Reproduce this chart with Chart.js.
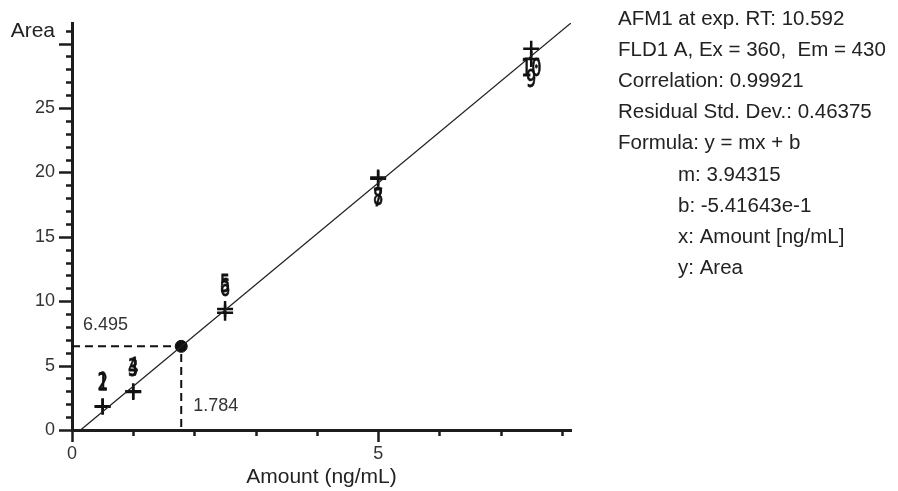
<!DOCTYPE html>
<html>
<head>
<meta charset="utf-8">
<script src="https://cdn.jsdelivr.net/npm/chart.js"></script>
<style>
  html, body { margin: 0; padding: 0; background: #fff; }
  #c { display: block; }
</style>
</head>
<body>
<canvas id="c" width="898" height="491"></canvas>
<script>
// calibration standards (levels 1..10)
const calX = [0.5, 0.5, 1, 1, 2.5, 2.5, 5, 5, 7.5, 7.5];
const calY = [1.85, 1.8, 3.0, 2.95, 9.4, 9.1, 19.5, 19.6, 28.8, 29.6];
const calLabels = ["1", "2", "4", "3", "5", "6", "7", "8", "9", "10"];

// sample found on the curve
const unkX = [1.784];
const unkY = [6.495];

// fitted line, end points
const fitX = [0.14, 8.15];
const fitY = [0, 31.6];

// dashed read-off lines
const dashX = [0, 1.784, 1.784];
const dashY = [6.495, 6.495, 0];

const infoLines = [
  ["AFM1 at exp. RT: 10.592", 0],
  ["FLD1 A, Ex = 360,  Em = 430", 0],
  ["Correlation: 0.99921", 0],
  ["Residual Std. Dev.: 0.46375", 0],
  ["Formula: y = mx + b", 0],
  ["m: 3.94315", 1],
  ["b: -5.41643e-1", 1],
  ["x: Amount [ng/mL]", 1],
  ["y: Area", 1]
];

const toPts = (xs, ys) => xs.map((x, i) => ({ x, y: ys[i] }));
const INK = "#1c1c1c";
const SANS = "'Liberation Sans', Arial, sans-serif";

// minor/major tick marks drawn from the scales' own ticks
const tickMarks = {
  id: "tickMarks",
  afterDraw(chart) {
    const { ctx, scales: { x, y } } = chart;
    ctx.save();
    ctx.strokeStyle = INK;
    ctx.lineWidth = 2.5;
    ctx.beginPath();
    y.ticks.forEach(t => {
      const len = t.value % 5 === 0 ? 13 : 6;
      const py = Math.round(y.getPixelForValue(t.value)) + 0.5;
      ctx.moveTo(y.right - len, py);
      ctx.lineTo(y.right, py);
    });
    x.ticks.forEach(t => {
      const len = t.value % 5 === 0 ? 12 : 6;
      const px = Math.round(x.getPixelForValue(t.value)) + 0.5;
      ctx.moveTo(px, x.top);
      ctx.lineTo(px, x.top + len);
    });
    ctx.stroke();
    ctx.restore();
  }
};

// level numbers next to the calibration points, value tags, info block
const textLayer = {
  id: "textLayer",
  afterDatasetsDraw(chart) {
    const { ctx } = chart;
    ctx.save();
    const meta = chart.getDatasetMeta(2);
    ctx.fillStyle = "#111";
    ctx.strokeStyle = "#111";
    ctx.lineWidth = 0.8;
    ctx.font = "25px 'DejaVu Sans Mono', monospace";
    ctx.textAlign = "center";
    ctx.textBaseline = "middle";
    meta.data.forEach((pt, i) => {
      const dy = i < 6 ? -23 : 21;
      ctx.save();
      ctx.translate(pt.x, pt.y + dy);
      ctx.scale(0.68, 1);
      ctx.fillText(calLabels[i], 0, 0);
      ctx.strokeText(calLabels[i], 0, 0);
      ctx.restore();
    });

    const u = chart.getDatasetMeta(3).data[0];
    ctx.fillStyle = "#333";
    ctx.font = "18px " + SANS;
    ctx.textAlign = "left";
    ctx.fillText(unkY[0].toFixed(3), chart.chartArea.left + 11, u.y - 21);
    ctx.fillText(unkX[0].toFixed(3), u.x + 12, u.y + 60);

    ctx.fillStyle = "#222";
    ctx.font = "20.5px " + SANS;
    infoLines.forEach(([txt, indent], i) => {
      ctx.fillText(txt, 618 + indent * 60, 19 + i * 31.2);
    });
    ctx.restore();
  }
};

new Chart(document.getElementById("c"), {
  type: "scatter",
  data: {
    datasets: [
      {
        type: "line",
        data: toPts(fitX, fitY),
        borderColor: "#222",
        borderWidth: 1.3,
        pointRadius: 0,
        fill: false
      },
      {
        type: "line",
        data: toPts(dashX, dashY),
        borderColor: "#111",
        borderWidth: 2,
        borderDash: [8, 5],
        pointRadius: 0,
        fill: false
      },
      {
        data: toPts(calX, calY),
        pointStyle: "cross",
        pointRadius: 8,
        borderColor: "#111",
        borderWidth: 2.5
      },
      {
        data: toPts(unkX, unkY),
        pointStyle: "circle",
        pointRadius: 6,
        backgroundColor: "#111",
        borderColor: "#111",
        borderWidth: 1
      }
    ]
  },
  options: {
    responsive: false,
    animation: false,
    devicePixelRatio: 1,
    layout: { padding: { top: 23, right: 327, left: 0, bottom: 0 } },
    plugins: { legend: { display: false }, tooltip: { enabled: false } },
    scales: {
      x: {
        type: "linear",
        min: 0,
        max: 8.15,
        afterFit: s => { s.height = 61; s.paddingLeft = 0; s.paddingRight = 0; },
        grid: { display: false, drawTicks: false },
        border: { display: true, width: 3, color: INK },
        ticks: {
          stepSize: 1,
          includeBounds: false,
          autoSkip: false,
          maxRotation: 0,
          padding: 13,
          color: "#333",
          font: { family: SANS, size: 18 },
          callback: v => (v % 5 === 0 ? String(v) : "")
        },
        title: {
          display: true,
          text: "Amount (ng/mL)",
          color: "#222",
          font: { family: SANS, size: 21 },
          padding: { top: 0, bottom: 1 }
        }
      },
      y: {
        type: "linear",
        min: 0,
        max: 31.6,
        afterFit: s => { s.width = 72; s.paddingTop = 0; s.paddingBottom = 0; },
        grid: { display: false, drawTicks: false },
        border: { display: true, width: 3, color: INK },
        ticks: {
          stepSize: 1,
          includeBounds: false,
          autoSkip: false,
          padding: 17,
          color: ctx => (ctx.tick && ctx.tick.value === 31 ? "#222" : "#333"),
          font: ctx => ({ family: SANS, size: ctx.tick && ctx.tick.value === 31 ? 21 : 18 }),
          callback: v => (v === 31 ? "Area" : (v % 5 === 0 && v < 30 ? String(v) : ""))
        }
      }
    }
  },
  plugins: [tickMarks, textLayer]
});
</script>
</body>
</html>
